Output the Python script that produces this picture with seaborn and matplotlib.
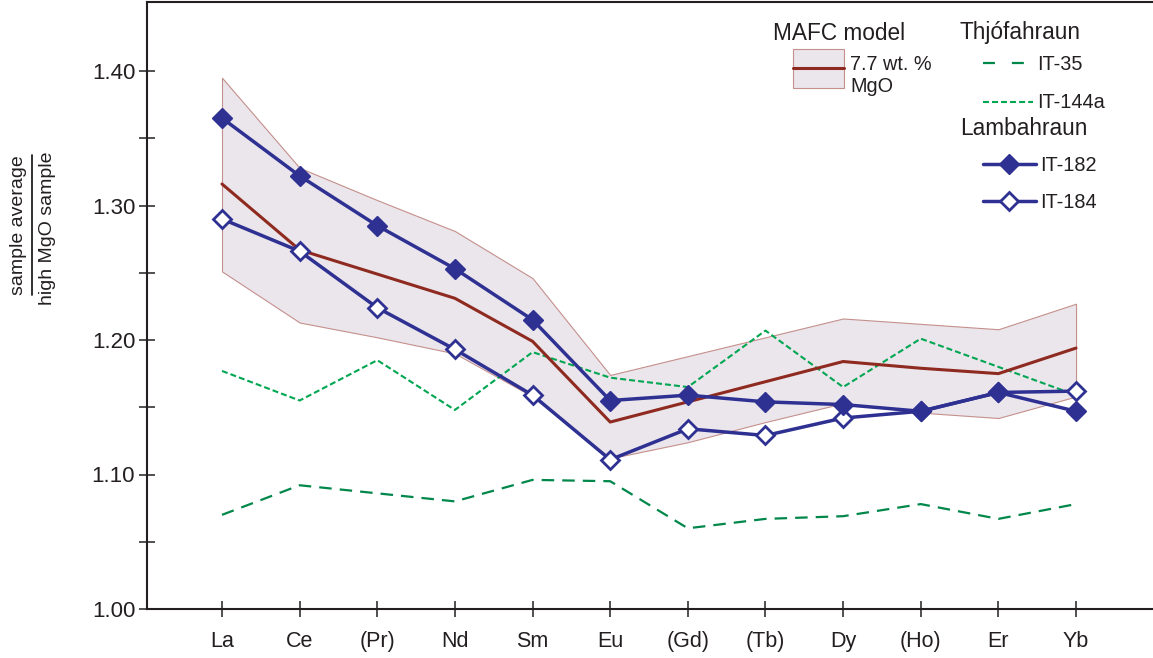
import numpy as np
import pandas as pd
import matplotlib
matplotlib.use("Agg")
import matplotlib.pyplot as plt
from matplotlib.lines import Line2D
from matplotlib.patches import Patch, Rectangle
from matplotlib.ticker import FixedLocator, FormatStrFormatter
import seaborn as sns

# Rare-earth elements (bracketed ones are interpolated)
elements = ["La", "Ce", "(Pr)", "Nd", "Sm", "Eu", "(Gd)", "(Tb)", "Dy", "(Ho)", "Er", "Yb"]

# Lambahraun samples
it182 = [1.365, 1.322, 1.285, 1.253, 1.215, 1.155, 1.159, 1.154, 1.152, 1.147, 1.161, 1.147]
it184 = [1.290, 1.266, 1.224, 1.193, 1.159, 1.111, 1.134, 1.129, 1.142, 1.147, 1.161, 1.162]

# Thjófahraun samples
it35 = [1.070, 1.092, 1.086, 1.080, 1.096, 1.095, 1.060, 1.067, 1.069, 1.078, 1.067, 1.078]
it144a = [1.177, 1.155, 1.185, 1.148, 1.191, 1.172, 1.165, 1.207, 1.165, 1.201, 1.180, 1.159]

# MAFC model at 7.7 wt.% MgO with its uncertainty envelope
mafc = [1.316, 1.267, 1.249, 1.231, 1.199, 1.139, 1.154, 1.169, 1.184, 1.179, 1.175, 1.194]
mafc_upper = [1.395, 1.328, 1.304, 1.281, 1.246, 1.174, 1.188, 1.202, 1.216, 1.212, 1.208, 1.227]
mafc_lower = [1.251, 1.213, 1.202, 1.190, 1.158, 1.112, 1.124, 1.139, 1.153, 1.146, 1.142, 1.158]

y_major = [1.00, 1.10, 1.20, 1.30, 1.40]
y_minor = [1.05, 1.15, 1.25, 1.35]

sns.set_style("ticks")
plt.rcParams["font.family"] = ["Liberation Sans", "DejaVu Sans"]
plt.rcParams["lines.scale_dashes"] = False

INK = "#231F20"
BLUE = "#2E3192"
RED = "#8E2A1F"
GREEN_DARK = "#00874A"
GREEN_LIGHT = "#00A651"
BAND_FACE = "#EBE5EC"
BAND_EDGE = "#C4908C"

W, H = 1153, 658
PX = 72 / 100  # points per pixel at 100 dpi
fig = plt.figure(figsize=(W / 100, H / 100), dpi=100)
ax = fig.add_axes([147 / W, 1 - 609 / H, (W - 147) / W, (609 - 2) / H])

pos = np.arange(len(elements))
df = pd.DataFrame({"pos": pos, "it182": it182, "it184": it184, "it35": it35,
                   "it144a": it144a, "mafc": mafc})

# model envelope
ax.fill_between(pos, mafc_lower, mafc_upper, facecolor=BAND_FACE,
                edgecolor=BAND_EDGE, linewidth=0.8, zorder=1)

# Thjófahraun
sns.lineplot(data=df, x="pos", y="it35", ax=ax, color=GREEN_DARK, linewidth=1.6,
             linestyle=(0, (9.0, 5.8)), zorder=2)
sns.lineplot(data=df, x="pos", y="it144a", ax=ax, color=GREEN_LIGHT, linewidth=1.5,
             linestyle=(0, (4.3, 2.2)), zorder=2)

# model curve
sns.lineplot(data=df, x="pos", y="mafc", ax=ax, color=RED, linewidth=2.2, zorder=3)

# Lambahraun
sns.lineplot(data=df, x="pos", y="it184", ax=ax, color=BLUE, linewidth=2.5,
             marker="D", markersize=9, markerfacecolor="white",
             markeredgecolor=BLUE, markeredgewidth=2.0, zorder=4)
sns.lineplot(data=df, x="pos", y="it182", ax=ax, color=BLUE, linewidth=2.5,
             marker="D", markersize=10, markerfacecolor=BLUE,
             markeredgecolor=BLUE, markeredgewidth=1.0, zorder=5)

# axes
ax.set_xlim((147 - 222) / 77.64, (W - 222) / 77.64)
ax.set_ylim(1.0, 1.0 + (609 - 2) / 1345)
ax.set_xticks(pos)
ax.set_xticklabels(elements)
ax.yaxis.set_major_locator(FixedLocator(y_major))
ax.yaxis.set_minor_locator(FixedLocator(y_minor))
ax.yaxis.set_major_formatter(FormatStrFormatter("%.2f"))
ax.set_xlabel("")
ax.set_ylabel("")
ax.tick_params(axis="both", which="both", direction="inout", length=12,
               width=1.1, color=INK, labelcolor=INK, labelsize=15.5, pad=3)
ax.tick_params(axis="y", labelsize=16, pad=2.5)
ax.tick_params(axis="x", pad=10)
ax.spines["right"].set_visible(False)
for side in ("left", "bottom", "top"):
    ax.spines[side].set_color(INK)
    ax.spines[side].set_linewidth(1.5)

# y-axis label as a fraction
fig.text(18.5 / W, 1 - 225 / H, "sample average", rotation=90, ha="center",
         va="center", fontsize=14, color=INK)
fig.text(47.5 / W, 1 - 228 / H, "high MgO sample", rotation=90, ha="center",
         va="center", fontsize=14, color=INK)
fig.add_artist(Line2D([32 / W, 32 / W], [1 - 155 / H, 1 - 295 / H],
                      transform=fig.transFigure, color=INK, linewidth=1.3))

# legend headers
for txt, x, y in [("MAFC model", 773, 40), ("Thjófahraun", 960, 39.5),
                  ("Lambahraun", 960, 135)]:
    fig.text(x / W, 1 - y / H, txt, ha="left", va="baseline", fontsize=16.3,
             color=INK)


class BandHandler:
    """Shaded envelope box with the model curve through its middle."""

    def legend_artist(self, legend, orig_handle, fontsize, handlebox):
        x0 = -handlebox.xdescent
        w = handlebox.width
        bottom, top = -4.7 * PX, 34.3 * PX
        rect = Rectangle((x0, bottom), w, top - bottom, facecolor=BAND_FACE,
                         edgecolor=BAND_EDGE, linewidth=0.8,
                         transform=handlebox.get_transform())
        mid = 0.5 * (bottom + top)
        line = Line2D([x0, x0 + w], [mid, mid], color=RED, linewidth=2.2,
                      transform=handlebox.get_transform())
        handlebox.add_artist(rect)
        handlebox.add_artist(line)
        return rect


FS = 14.3
fs_px = FS * 100 / 72

band_handle = Patch(facecolor=BAND_FACE, edgecolor=BAND_EDGE)
leg_mafc = fig.legend([band_handle], ["7.7 wt. %\nMgO"],
                      handler_map={Patch: BandHandler()},
                      loc="upper left", bbox_to_anchor=(793 / W, 1 - 55 / H),
                      frameon=False, fontsize=FS, borderpad=0, borderaxespad=0,
                      handlelength=51 / fs_px, handleheight=0.7,
                      handletextpad=6 / fs_px, labelcolor=INK)

thj_handles = [Line2D([], [], color=GREEN_DARK, linewidth=1.6, linestyle=(0, (8.6, 12.2))),
               Line2D([], [], color=GREEN_LIGHT, linewidth=1.5, linestyle=(0, (4.3, 2.2)))]
leg_thj = fig.legend(thj_handles, ["IT-35", "IT-144a"], loc="upper left",
                     bbox_to_anchor=(983 / W, 1 - 55 / H), frameon=False,
                     fontsize=FS, borderpad=0, borderaxespad=0,
                     handlelength=50 / fs_px, handletextpad=4 / fs_px,
                     labelspacing=0.98, labelcolor=INK)

lam_handles = [Line2D([], [], color=BLUE, linewidth=2.5, marker="D", markersize=10,
                      markerfacecolor=BLUE, markeredgecolor=BLUE, markeredgewidth=1.0),
               Line2D([], [], color=BLUE, linewidth=2.5, marker="D", markersize=9,
                      markerfacecolor="white", markeredgecolor=BLUE, markeredgewidth=2.0)]
leg_lam = fig.legend(lam_handles, ["IT-182", "IT-184"], loc="upper left",
                     bbox_to_anchor=(983 / W, 1 - 155.5 / H), frameon=False,
                     fontsize=FS, borderpad=0, borderaxespad=0,
                     handlelength=53 / fs_px, handletextpad=4 / fs_px,
                     labelspacing=0.92, labelcolor=INK, numpoints=1)

fig.savefig("out.png", dpi=100)
